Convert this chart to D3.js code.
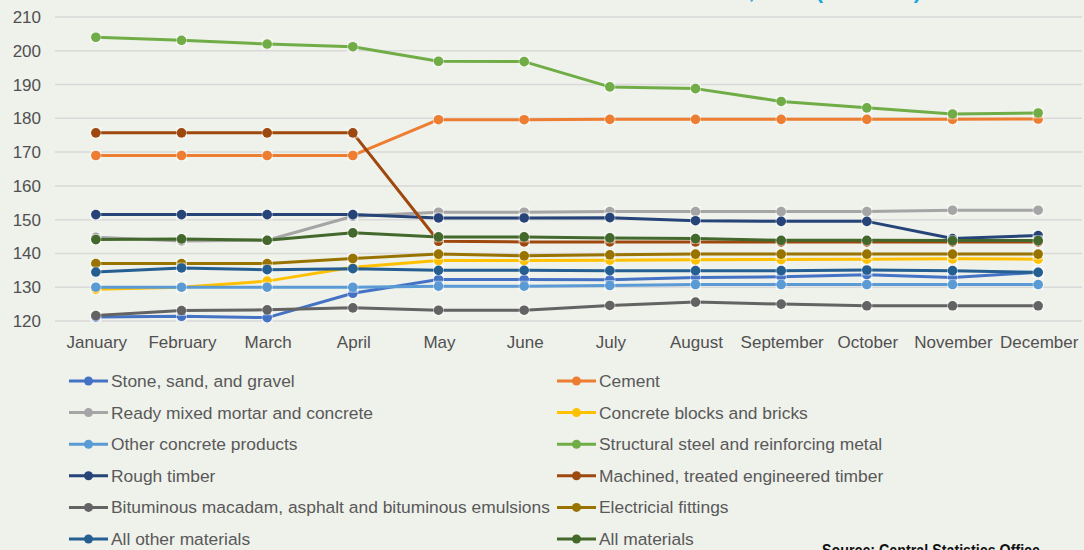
<!DOCTYPE html>
<html>
<head>
<meta charset="utf-8">
<script src="https://cdn.jsdelivr.net/npm/d3@7"></script>
<style>
  html, body { margin: 0; padding: 0; background: #eff1eb; }
  svg { display: block; }
  text { font-family: "Liberation Sans", Arial, sans-serif; }
</style>
</head>
<body>
<svg id="chart" width="1084" height="550"></svg>
<script>
// Monthly price index by construction material
const months = ["January", "February", "March", "April", "May", "June",
                "July", "August", "September", "October", "November", "December"];
const yTicks = [120, 130, 140, 150, 160, 170, 180, 190, 200, 210];

const seriesNames = [
  "Stone, sand, and gravel",
  "Cement",
  "Ready mixed mortar and concrete",
  "Concrete blocks and bricks",
  "Other concrete products",
  "Structural steel and reinforcing metal",
  "Rough timber",
  "Machined, treated engineered timber",
  "Bituminous macadam, asphalt and bituminous emulsions",
  "Electricial fittings",
  "All other materials",
  "All materials"
];

const stoneSandGravel   = [121.2, 121.4, 121.0, 128.2, 132.3, 132.3, 132.2, 132.9, 133.1, 133.7, 132.9, 134.4];
const cement            = [169.0, 169.0, 169.0, 169.0, 179.6, 179.6, 179.7, 179.7, 179.7, 179.7, 179.7, 179.8];
const readyMixed        = [144.8, 143.7, 143.9, 151.0, 152.2, 152.2, 152.4, 152.4, 152.4, 152.4, 152.8, 152.8];
const concreteBlocks    = [129.4, 130.0, 131.8, 135.9, 137.9, 137.9, 138.0, 138.1, 138.2, 138.3, 138.4, 138.3];
const otherConcrete     = [130.0, 130.0, 130.0, 130.0, 130.3, 130.3, 130.5, 130.8, 130.8, 130.8, 130.8, 130.8];
const structuralSteel   = [204.0, 203.1, 202.0, 201.2, 196.9, 196.8, 189.3, 188.8, 185.0, 183.1, 181.3, 181.6];
const roughTimber       = [151.5, 151.5, 151.5, 151.5, 150.5, 150.5, 150.6, 149.7, 149.5, 149.5, 144.4, 145.3];
const machinedTimber    = [175.7, 175.7, 175.7, 175.7, 143.6, 143.4, 143.4, 143.4, 143.4, 143.4, 143.4, 143.4];
const bituminous        = [121.6, 123.1, 123.3, 123.9, 123.2, 123.2, 124.6, 125.6, 125.0, 124.5, 124.5, 124.5];
const electricalFitting = [137.0, 137.0, 137.0, 138.5, 139.8, 139.3, 139.6, 139.8, 139.8, 139.8, 139.8, 139.8];
const allOtherMaterials = [134.5, 135.7, 135.2, 135.5, 135.0, 135.0, 134.9, 134.9, 134.9, 135.1, 134.9, 134.4];
const allMaterials      = [144.1, 144.3, 143.9, 146.1, 144.9, 144.9, 144.6, 144.4, 143.9, 143.9, 143.8, 143.8];

const seriesValues = [stoneSandGravel, cement, readyMixed, concreteBlocks, otherConcrete,
  structuralSteel, roughTimber, machinedTimber, bituminous, electricalFitting,
  allOtherMaterials, allMaterials];

const colors = ["#4472c4", "#ed7d31", "#a5a5a5", "#ffc000", "#5b9bd5", "#70ad47",
                "#264478", "#9e480e", "#636363", "#997300", "#255e91", "#43682b"];

const series = seriesNames.map((name, i) => ({ name, color: colors[i], values: seriesValues[i] }));

const svg = d3.select("#chart");
const plot = { left: 53, right: 1081, top: 17, bottom: 321 };

const x = d3.scaleBand().domain(months).range([plot.left, plot.right]).paddingInner(0).paddingOuter(0);
const y = d3.scaleLinear().domain([120, 210]).range([plot.bottom, plot.top]);
const cx = m => x(m) + x.bandwidth() / 2;

// Title (runs off the top edge)
svg.append("text")
  .attr("x", 921).attr("y", -2)
  .attr("text-anchor", "end")
  .attr("fill", "#1ca6df")
  .attr("font-size", 22).attr("font-weight", "bold")
  .text("Construction materials index, 2019 (Jan\u2013Dec)");

// Horizontal gridlines
svg.append("g")
  .selectAll("line")
  .data(yTicks)
  .join("line")
  .attr("x1", plot.left + 2).attr("x2", plot.right + 1)
  .attr("y1", d => y(d)).attr("y2", d => y(d))
  .attr("stroke", "#d9d9d9").attr("stroke-width", 1.5);

// Y axis labels
const yAxis = d3.axisLeft(y).tickValues(yTicks).tickSize(0).tickPadding(0);
const gy = svg.append("g").attr("transform", "translate(41,0)").call(yAxis);
gy.select(".domain").remove();
gy.selectAll("text")
  .attr("font-size", 17).attr("fill", "#505050")
  .attr("font-family", "'Liberation Sans', Arial, sans-serif");

// X axis labels
const xAxis = d3.axisBottom(x).tickSize(0).tickPadding(0);
const gx = svg.append("g").attr("transform", "translate(1,336)").call(xAxis);
gx.select(".domain").remove();
gx.selectAll("text")
  .attr("font-size", 17).attr("fill", "#505050")
  .attr("font-family", "'Liberation Sans', Arial, sans-serif");

// Lines with markers, drawn in series order
const line = d3.line().x((d, i) => cx(months[i])).y(d => y(d));
series.forEach(s => {
  const g = svg.append("g");
  g.append("path")
    .attr("d", line(s.values))
    .attr("fill", "none")
    .attr("stroke", s.color)
    .attr("stroke-width", 3)
    .attr("stroke-linejoin", "round");
  const pts = g.selectAll("g.pt").data(s.values).join("g").attr("class", "pt")
    .attr("transform", (d, i) => `translate(${cx(months[i])},${y(d)})`);
  pts.append("rect")
    .attr("x", -5.5).attr("y", -5.5).attr("width", 11).attr("height", 11)
    .attr("fill", "#ffffff").attr("opacity", 0.5);
  pts.append("circle")
    .attr("r", 4.8)
    .attr("fill", s.color);
});

// Legend in two columns, row-major order
const legendX = [69, 557];
const legend = svg.append("g");
const items = legend.selectAll("g").data(series).join("g")
  .attr("transform", (d, i) => `translate(${legendX[i % 2]},${381 + Math.floor(i / 2) * 31.6})`);
items.append("line")
  .attr("x1", 0).attr("x2", 39).attr("y1", 0).attr("y2", 0)
  .attr("stroke", d => d.color).attr("stroke-width", 3);
items.append("circle")
  .attr("cx", 19.5).attr("cy", 0).attr("r", 4.5)
  .attr("fill", d => d.color);
items.append("text")
  .attr("x", 42).attr("y", 0).attr("dy", "0.35em")
  .attr("font-size", 17.4).attr("fill", "#595959")
  .text(d => d.name);

// Source note
svg.append("text")
  .attr("x", 822).attr("y", 556)
  .attr("font-size", 17).attr("font-weight", "bold")
  .attr("fill", "#111111")
  .attr("textLength", 218).attr("lengthAdjust", "spacingAndGlyphs")
  .text("Source: Central Statistics Office");
</script>
</body>
</html>
